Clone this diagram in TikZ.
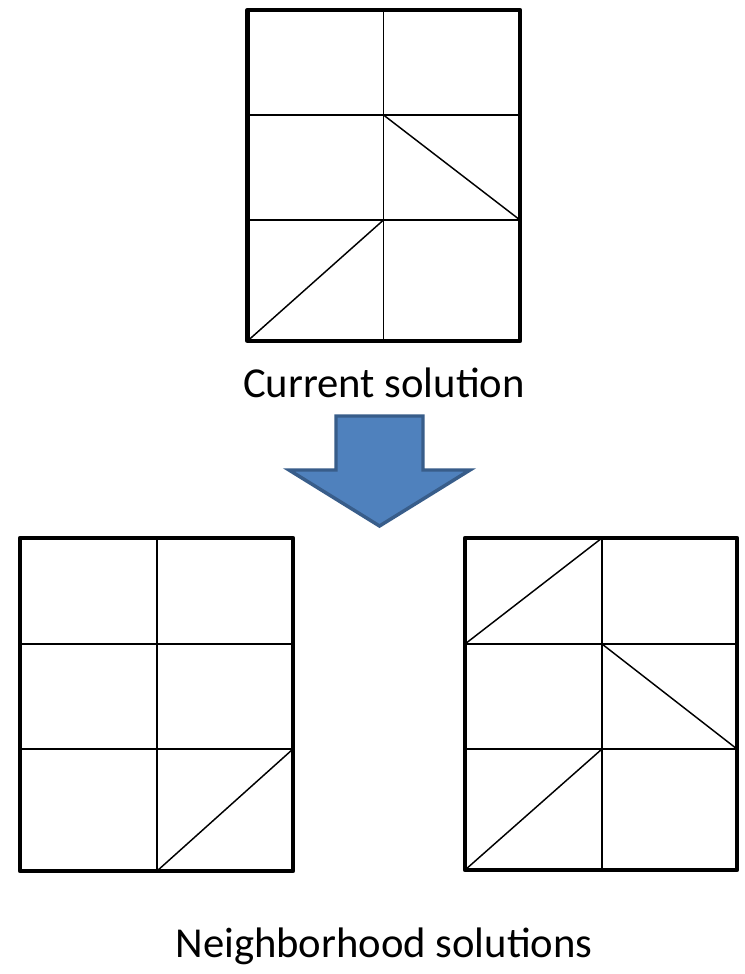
\documentclass[tikz,border=0pt]{standalone}
\usepackage{fontspec}
\setmainfont{Carlito}
\definecolor{arrowfill}{HTML}{4F81BD}
\definecolor{arrowline}{HTML}{385D8A}
\begin{document}
\begin{tikzpicture}[x=0.75pt,y=-0.75pt,
  outer/.style={line width=3.2pt,line join=round},
  inner/.style={line width=1.1pt},
  label/.style={anchor=base,inner sep=0pt,font=\fontsize{32}{38}\selectfont}]
\useasboundingbox[fill=white] (0,0) rectangle (744,974);
% top grid
\draw[inner] (383.5,10) -- (383.5,341) (247.5,115) -- (520,115) (247.5,220) -- (520,220);
\draw[inner] (383.5,115) -- (520,220) (247.5,341) -- (383.5,220);
\draw[outer] (247.5,10) rectangle (520,341);
\node[label] (cur) at (384,397) {Current solution};
% arrow
\draw[line width=2.6pt,line join=miter,fill=arrowfill,draw=arrowline]
  (336,416) -- (423,416) -- (423,470) -- (470,470) -- (379.5,526) -- (289,470) -- (336,470) -- cycle;
% bottom-left grid
\draw[inner] (157,538) -- (157,871) (20,644) -- (293,644) (20,749) -- (293,749);
\draw[inner] (157,871) -- (293,749);
\draw[outer] (20,538) rectangle (293,871);
% bottom-right grid
\draw[inner] (602,538) -- (602,870) (465,644) -- (737,644) (465,749) -- (737,749);
\draw[inner] (465,644) -- (602,538) (602,644) -- (737,749) (465,870) -- (602,749);
\draw[outer] (465,538) rectangle (737,870);
\node[label] (nb) at (384,957) {Neighborhood solutions};
\end{tikzpicture}
\end{document}
